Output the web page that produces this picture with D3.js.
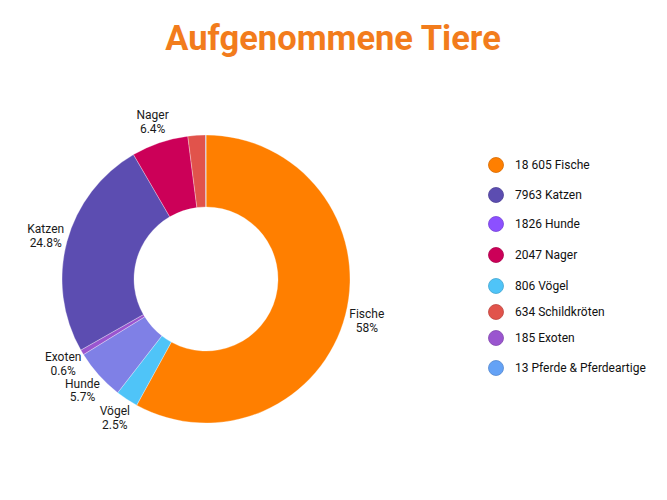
<!DOCTYPE html>
<html>
<head>
<meta charset="utf-8">
<script src="https://cdn.jsdelivr.net/npm/d3@7"></script>
<style>
  body { margin: 0; background: #fff; }
  svg { display: block; font-family: Roboto, sans-serif; }
</style>
</head>
<body>
<svg id="chart" width="667" height="500"></svg>
<script>
// Legend order
const legendNames = ['Fische', 'Katzen', 'Hunde', 'Nager', 'Vögel', 'Schildkröten', 'Exoten', 'Pferde & Pferdeartige'];
const legendCounts = ['18 605', '7963', '1826', '2047', '806', '634', '185', '13'];
const legendColors = ['#ff7f00', '#5c4db1', '#8c50ff', '#cc0058', '#4fc4f8', '#e1534b', '#9a55cf', '#64a2f6'];

// Slice order, clockwise from the top
const sliceNames = ['Fische', 'Vögel', 'Hunde', 'Exoten', 'Katzen', 'Nager', 'Schildkröten', 'Pferde & Pferdeartige'];
const sliceValues = [18605, 806, 1826, 185, 7963, 2047, 634, 13];
const sliceColors = ['#ff7f00', '#4fc4f8', '#7f80e6', '#9a55cf', '#5c4db1', '#cc0058', '#e1534b', '#64a2f6'];
const sliceLabelled = [true, true, true, true, true, true, false, false];

(function() {
  let svg = d3.select('#chart');
  let cx = 206, cy = 279;
  let outerR = 144, innerR = 72, labelR = 166;

  svg.append('text')
    .attr('x', 333)
    .attr('y', 50)
    .attr('text-anchor', 'middle')
    .attr('font-size', 34.5)
    .attr('font-weight', 'bold')
    .attr('fill', '#f27c1c')
    .text('Aufgenommene Tiere');

  let total = d3.sum(sliceValues);
  let pct = (v) => {
    let s = d3.format('.1f')(v / total * 100);
    return s.replace(/\.0$/, '') + '%';
  };

  let slices = sliceNames.map((name, i) => ({
    name: name,
    value: sliceValues[i],
    color: sliceColors[i],
    labelled: sliceLabelled[i]
  }));

  let pie = d3.pie().value((d) => d.value).sort(null);
  let arc = d3.arc().innerRadius(innerR).outerRadius(outerR);
  let labelArc = d3.arc().innerRadius(labelR).outerRadius(labelR);
  let arcs = pie(slices);

  let g = svg.append('g').attr('transform', `translate(${cx},${cy})`);

  g.selectAll('.slice')
    .data(arcs)
    .enter().append('path')
      .attr('class', 'slice')
      .attr('d', arc)
      .attr('fill', (d) => d.data.color)
      .attr('stroke', 'rgba(255,255,255,0.5)')
      .attr('stroke-width', 0.6);

  let labels = g.selectAll('.slice-label')
    .data(arcs.filter((d) => d.data.labelled))
    .enter().append('text')
      .attr('class', 'slice-label')
      .attr('text-anchor', 'middle')
      .attr('font-size', 12)
      .attr('fill', '#1a1a1a')
      .attr('transform', (d) => {
        let [x, y] = labelArc.centroid(d);
        return `translate(${x},${y})`;
      });

  labels.append('tspan')
    .attr('x', 0)
    .attr('dy', '-0.2em')
    .text((d) => d.data.name);

  labels.append('tspan')
    .attr('x', 0)
    .attr('dy', '1.15em')
    .text((d) => pct(d.data.value));

  // Legend
  let legendY = [165, 195, 224, 255, 286, 312, 338, 368];
  let legend = svg.append('g').attr('class', 'legend');
  let rows = legend.selectAll('.legend-row')
    .data(legendNames)
    .enter().append('g')
      .attr('class', 'legend-row')
      .attr('transform', (d, i) => `translate(496,${legendY[i]})`);

  rows.append('circle')
    .attr('r', 7.5)
    .attr('fill', (d, i) => legendColors[i])
    .attr('stroke', (d, i) => d3.color(legendColors[i]).darker(0.5))
    .attr('stroke-width', 0.8);

  rows.append('text')
    .attr('x', 19)
    .attr('dy', '0.35em')
    .attr('font-size', 12)
    .attr('fill', '#111')
    .text((d, i) => `${legendCounts[i]} ${d}`);
})();
</script>
</body>
</html>
